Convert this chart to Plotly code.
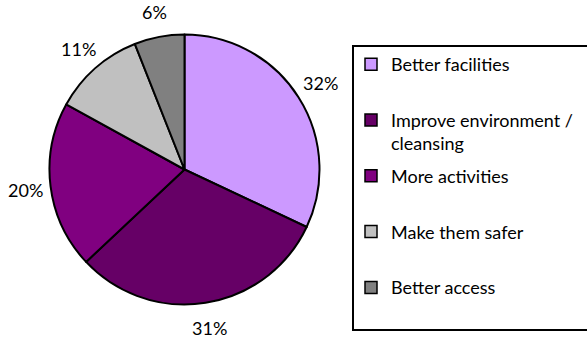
import math
import plotly.graph_objects as go

# ---- data ----
categories = ["Better facilities", "Improve environment / cleansing", "More activities",
              "Make them safer", "Better access"]
legend_names = ["Better facilities", "Improve environment /<br>cleansing", "More activities",
                "Make them safer", "Better access"]
values = [32, 31, 20, 11, 6]
colors = ["#CC99FF", "#660066", "#800080", "#C0C0C0", "#808080"]

# ---- geometry / style ----
W, H = 587, 339
cx, cy, r = 184.5, 169.5, 135.0
label_r = 1.19 * r
FONT = "Lato"
FS = 18

fig = go.Figure()
fig.add_trace(go.Pie(
    labels=categories, values=values, sort=False, direction="clockwise", rotation=0,
    marker=dict(colors=colors, line=dict(color="black", width=2)),
    textinfo="none", showlegend=False, hoverinfo="label+percent",
    domain=dict(x=[(cx - r) / W, (cx + r) / W], y=[(H - cy - r) / H, (H - cy + r) / H]),
))

# legend entries (square swatches)
for name, col in zip(legend_names, colors):
    shown = name if "<br>" in name else name + "<br> "
    fig.add_trace(go.Scatter(
        x=[None], y=[None], mode="markers", name=shown, legendgroup=name,
        marker=dict(symbol="square", size=12, color=col, line=dict(color="black", width=1.5)),
        showlegend=True, hoverinfo="skip",
    ))

# percentage labels around the pie, positioned from the data
annotations = []
total = sum(values)
cum = 0.0
for v in values:
    mid = (cum + v / 2) / total * 2 * math.pi
    cum += v
    px = cx + label_r * math.sin(mid)
    py = cy - label_r * math.cos(mid)
    annotations.append(dict(
        x=px / W, y=(H - py) / H, xref="paper", yref="paper",
        text=f"{round(v / total * 100)}%", showarrow=False,
        xanchor="center", yanchor="middle", font=dict(family=FONT, size=FS, color="black"),
    ))

fig.update_layout(
    width=W, height=H, margin=dict(l=0, r=0, t=0, b=0),
    paper_bgcolor="white", plot_bgcolor="white",
    xaxis=dict(visible=False), yaxis=dict(visible=False),
    font=dict(family=FONT, size=FS, color="black"),
    legend=dict(
        x=351 / W, xanchor="left", y=(H - 46) / H, yanchor="top",
        traceorder="grouped", tracegroupgap=6, valign="top",
        bgcolor="rgba(0,0,0,0)", borderwidth=0,
        font=dict(family=FONT, size=FS, color="black"), itemsizing="trace",
    ),
    shapes=[dict(
        type="rect", xref="paper", yref="paper",
        x0=353 / W, x1=1.05, y0=(H - 330) / H, y1=(H - 46) / H,
        line=dict(color="black", width=2), fillcolor="rgba(0,0,0,0)", layer="below",
    )],
    annotations=annotations,
)

fig.write_html("out.html")
